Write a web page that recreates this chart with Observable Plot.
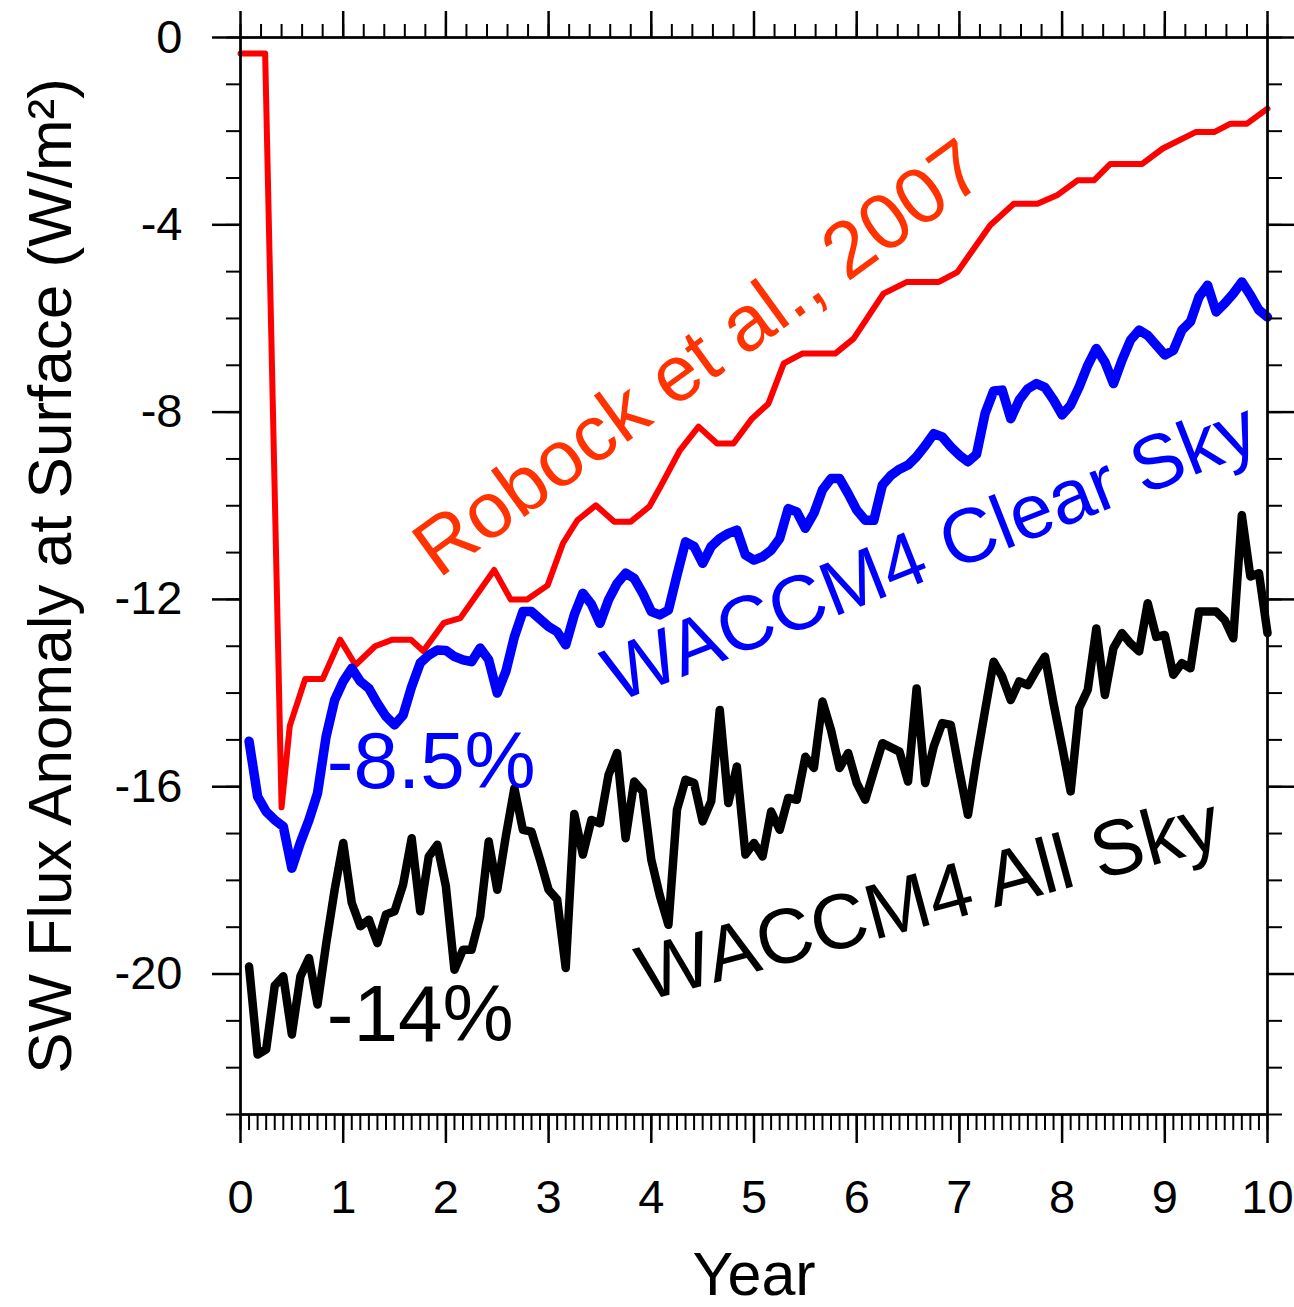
<!DOCTYPE html>
<html>
<head>
<meta charset="utf-8">
<script src="https://cdn.jsdelivr.net/npm/d3@7"></script>
<script src="https://cdn.jsdelivr.net/npm/@observablehq/plot@0.6"></script>
<style>
  html, body { margin: 0; padding: 0; background: #fff; }
  #chart svg { display: block; font-family: "Liberation Sans", Arial, Helvetica, sans-serif; }
</style>
</head>
<body>
<div id="chart"></div>
<script>
// Month number (1..120) of each WACCM4 monthly value
const monthNumbers = d3.range(1, 121);

// WACCM4 All Sky SW flux anomaly at surface (W/m^2), monthly
const allSky = [
  -19.84, -21.72, -21.61, -20.25, -20.05, -21.29, -20.05, -19.66, -20.65, -19.37, -18.20, -17.20,
  -18.48, -18.98, -18.84, -19.34, -18.73, -18.66, -18.09, -17.10, -18.66, -17.49, -17.24, -18.13,
  -19.91, -19.48, -19.48, -18.77, -17.17, -18.20, -17.06, -16.03, -16.92, -16.96, -17.56, -18.20,
  -18.41, -19.87, -16.58, -17.45, -16.71, -16.78, -15.75, -15.28, -17.10, -15.89, -16.10, -17.56,
  -18.33, -18.95, -16.49, -15.85, -15.92, -16.74, -16.31, -14.36, -16.35, -15.57, -17.45, -17.20,
  -17.49, -16.53, -16.92, -16.24, -16.28, -15.36, -15.60, -14.18, -14.79, -15.60, -15.28, -15.92,
  -16.28, -15.67, -15.07, -15.16, -15.25, -15.89, -13.90, -15.92, -15.14, -14.64, -14.68, -15.67,
  -16.60, -15.43, -14.37, -13.33, -13.65, -14.15, -13.75, -13.83, -13.51, -13.22, -14.22, -15.14,
  -16.10, -14.32, -13.93, -12.62, -14.04, -13.04, -12.72, -12.94, -13.11, -12.08, -12.80, -12.76,
  -13.61, -13.36, -13.47, -12.26, -12.26, -12.26, -12.44, -12.83, -10.20, -11.51, -11.44, -12.72
];

// WACCM4 Clear Sky SW flux anomaly at surface (W/m^2), monthly
const clearSky = [
  -15.03, -16.21, -16.53, -16.71, -16.85, -17.74, -17.19, -16.71, -16.14, -14.93, -14.15, -13.75,
  -13.47, -13.75, -13.90, -14.22, -14.50, -14.68, -14.47, -13.86, -13.36, -13.19, -13.08, -13.09,
  -13.22, -13.29, -13.33, -13.04, -13.29, -14.00, -13.54, -12.80, -12.26, -12.26, -12.42, -12.58,
  -12.69, -12.97, -12.33, -11.87, -12.10, -12.51, -12.01, -11.66, -11.44, -11.55, -11.87, -12.26,
  -12.33, -12.23, -11.48, -10.77, -10.87, -11.23, -10.87, -10.70, -10.59, -10.52, -11.05, -11.16,
  -11.09, -10.95, -10.70, -10.06, -10.13, -10.48, -10.16, -9.66, -9.42, -9.42, -9.74, -10.09,
  -10.31, -10.31, -9.56, -9.35, -9.22, -9.13, -8.95, -8.72, -8.46, -8.53, -8.74, -8.92,
  -9.06, -8.90, -8.03, -7.55, -7.53, -8.14, -7.74, -7.50, -7.39, -7.47, -7.74, -8.06,
  -7.85, -7.46, -7.00, -6.64, -6.93, -7.39, -6.89, -6.46, -6.25, -6.36, -6.57, -6.78,
  -6.68, -6.25, -6.07, -5.54, -5.29, -5.86, -5.68, -5.47, -5.22, -5.50, -5.82, -5.97
];

// Robock et al., 2007 curve
const robockYear = [
  0, 0.24, 0.40, 0.48, 0.63, 0.80, 0.97, 1.12, 1.31, 1.48, 1.66, 1.78, 1.98, 2.14, 2.47, 2.63,
  2.79, 2.99, 3.14, 3.28, 3.46, 3.64, 3.80, 3.98, 4.09, 4.28, 4.46, 4.64, 4.80, 4.98, 5.14, 5.29,
  5.47, 5.79, 5.97, 6.26, 6.49, 6.80, 6.98, 7.30, 7.53, 7.76, 7.95, 8.15, 8.31, 8.47, 8.78, 8.98,
  9.30, 9.48, 9.64, 9.80, 10.0
];
const robockFlux = [
  -0.34, -0.34, -16.44, -14.70, -13.70, -13.70, -12.86, -13.40, -13.00, -12.86, -12.86, -13.10, -12.50, -12.40, -11.37, -12.00,
  -12.00, -11.70, -10.80, -10.31, -9.99, -10.34, -10.34, -10.02, -9.59, -8.81, -8.31, -8.67, -8.67, -8.14, -7.82, -6.96,
  -6.75, -6.75, -6.43, -5.47, -5.22, -5.22, -5.01, -4.01, -3.55, -3.55, -3.37, -3.05, -3.05, -2.70, -2.70, -2.37,
  -2.02, -2.02, -1.84, -1.84, -1.52
];

// Axis tick values
const xMajorTicks = [0, 1, 2, 3, 4, 5, 6, 7, 8, 9, 10];
const yMajorTicks = [0, -4, -8, -12, -16, -20];
const xTopMinorTicks = d3.range(0, 51).map(k => k / 5);
const xBottomMinorTicks = d3.range(0, 121).map(k => k / 12);
const yMinorTicks = d3.range(-23, 1);

// Text labels (rotated curve names, centred)
const curveLabels = [
  {x: 4.465, y: -6.86, text: "Robock et al., 2007", color: "#ff3200", rotate: -36, size: 79},
  {x: 6.72, y: -11.0, text: "WACCM4 Clear Sky", color: "#0000ff", rotate: -21.5, size: 77},
  {x: 6.70, y: -18.41, text: "WACCM4 All Sky", color: "#000000", rotate: -15, size: 78}
];
// Percentage labels (left aligned)
const pctLabels = [
  {x: 0.84, y: -15.48, text: "-8.5%", color: "#0000ff"},
  {x: 0.84, y: -20.89, text: "-14%", color: "#000000"}
];

const allData = allSky.map((v, i) => ({year: monthNumbers[i] / 12, flux: v}));
const clearData = clearSky.map((v, i) => ({year: monthNumbers[i] / 12, flux: v}));
const robockData = robockFlux.map((v, i) => ({year: robockYear[i], flux: v}));

const FONT = '"Liberation Sans", Arial, Helvetica, sans-serif';
const blank = () => "";

const chart = Plot.plot({
  width: 1294,
  height: 1307,
  marginLeft: 240,
  marginRight: 27,
  marginTop: 37,
  marginBottom: 193,
  style: {fontFamily: FONT, background: "#fff", color: "#000", overflow: "visible"},
  x: {domain: [0, 10]},
  y: {domain: [-23, 0]},
  marks: [
    Plot.line(robockData, {x: "year", y: "flux", stroke: "#ff0000", strokeWidth: 6, strokeLinejoin: "round", strokeLinecap: "round"}),
    Plot.line(clearData, {x: "year", y: "flux", stroke: "#0000ff", strokeWidth: 9.5, strokeLinejoin: "round", strokeLinecap: "round"}),
    Plot.line(allData, {x: "year", y: "flux", stroke: "#000000", strokeWidth: 8.5, strokeLinejoin: "round", strokeLinecap: "round"}),

    // minor ticks
    Plot.axisX({anchor: "bottom", ticks: xBottomMinorTicks, tickSize: 16, strokeWidth: 2, tickFormat: blank, label: null}),
    Plot.axisX({anchor: "top", ticks: xTopMinorTicks, tickSize: 14, strokeWidth: 2, tickFormat: blank, label: null}),
    Plot.axisY({anchor: "left", ticks: yMinorTicks, tickSize: 14, strokeWidth: 2, tickFormat: blank, label: null}),
    Plot.axisY({anchor: "right", ticks: yMinorTicks, tickSize: 14, strokeWidth: 2, tickFormat: blank, label: null}),
    // major ticks
    Plot.axisX({anchor: "bottom", ticks: xMajorTicks, tickSize: 29, strokeWidth: 2.5, tickPadding: 36, fontSize: 47, tickFormat: d => String(d), label: null}),
    Plot.axisX({anchor: "top", ticks: xMajorTicks, tickSize: 27, strokeWidth: 2.5, tickFormat: blank, label: null}),
    Plot.axisY({anchor: "left", ticks: yMajorTicks, tickSize: 28, strokeWidth: 2.5, tickPadding: 30, fontSize: 47, tickFormat: d => String(d), label: null}),
    Plot.axisY({anchor: "right", ticks: yMajorTicks, tickSize: 28, strokeWidth: 2.5, tickFormat: blank, label: null}),

    Plot.frame({stroke: "#000", strokeWidth: 2.75}),

    // axis titles
    Plot.text(["Year"], {frameAnchor: "bottom", text: d => d, fontSize: 61, lineAnchor: "bottom", dy: 180, fill: "#000"}),
    Plot.text(["SW Flux Anomaly at Surface (W/m²)"], {frameAnchor: "left", text: d => d, fontSize: 62, rotate: -90, dx: -189, textAnchor: "middle", lineAnchor: "middle", fill: "#000"}),

    // in-plot labels
    Plot.text(curveLabels, {x: "x", y: "y", text: "text", fill: "color", rotate: "rotate", fontSize: "size", textAnchor: "middle", lineAnchor: "middle"}),
    Plot.text(pctLabels, {x: "x", y: "y", text: "text", fill: "color", fontSize: 80, textAnchor: "start", lineAnchor: "middle"})
  ]
});

document.getElementById("chart").appendChild(chart);
</script>
</body>
</html>
